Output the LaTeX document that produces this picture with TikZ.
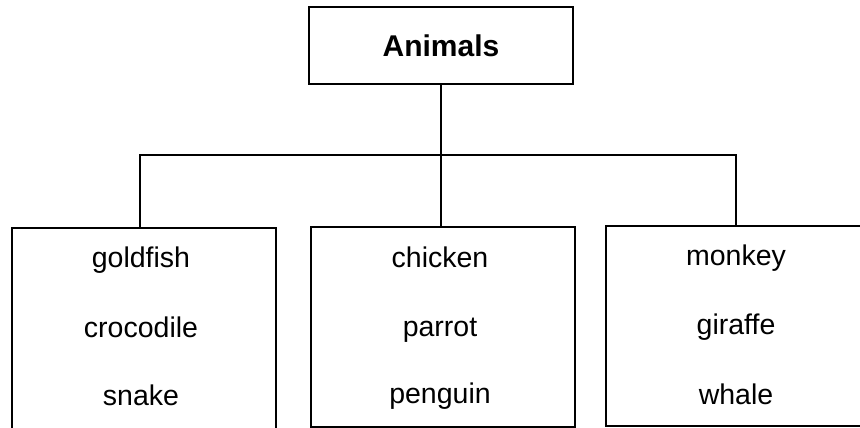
\documentclass[tikz,border=0pt]{standalone}
\usepackage{fontspec}
\setmainfont{Liberation Sans}
\usetikzlibrary{positioning}
\tikzset{
  boxline/.style={draw, line width=1.6pt},
  topbox/.style={boxline, minimum width=264pt, minimum height=77pt, inner sep=0pt,
    font=\fontsize{30}{34}\selectfont\bfseries},
  groupbox/.style={boxline, minimum width=264pt, minimum height=200pt, inner sep=0pt},
  animal/.style={font=\fontsize{28.5}{34}\selectfont, inner sep=0pt, anchor=base},
  link/.style={line width=1.6pt}
}
\begin{document}
\begin{tikzpicture}[x=1pt, y=-1pt]
      \clip (0,0) rectangle (860,428);

      % top box
       \node[topbox] (animals) at (441, 45.5) {Animals};

      % group boxes
       \node[groupbox, minimum height=206pt] (fishbox) at (144, 331) {};
       \node[groupbox] (birdbox) at (443, 327) {};
       \node[groupbox] (mammalbox) at (738, 326) {};

      % left group
       \node[animal] (goldfish) at (141, 267) {goldfish};
       \node[animal] (crocodile) at (141, 337) {crocodile};
       \node[animal] (snake) at (141, 405) {snake};

      % middle group
       \node[animal] (chicken) at (440, 267) {chicken};
       \node[animal] (parrot) at (440, 336) {parrot};
       \node[animal] (penguin) at (440, 403) {penguin};

      % right group
       \node[animal] (monkey) at (736, 265) {monkey};
       \node[animal] (giraffe) at (736, 334) {giraffe};
       \node[animal] (whale) at (736, 404) {whale};

      % connectors
       \coordinate (split) at (441, 155);
       \coordinate (leftdrop) at (140, 228);
       \coordinate (rightdrop) at (736, 225);
       \draw [link] (animals.south) -- (split);
       \draw [link] (split) -- (animals.south |- birdbox.north);
       \draw [link] (leftdrop) |- (split) -| (rightdrop);
    \end{tikzpicture}
\end{document}
